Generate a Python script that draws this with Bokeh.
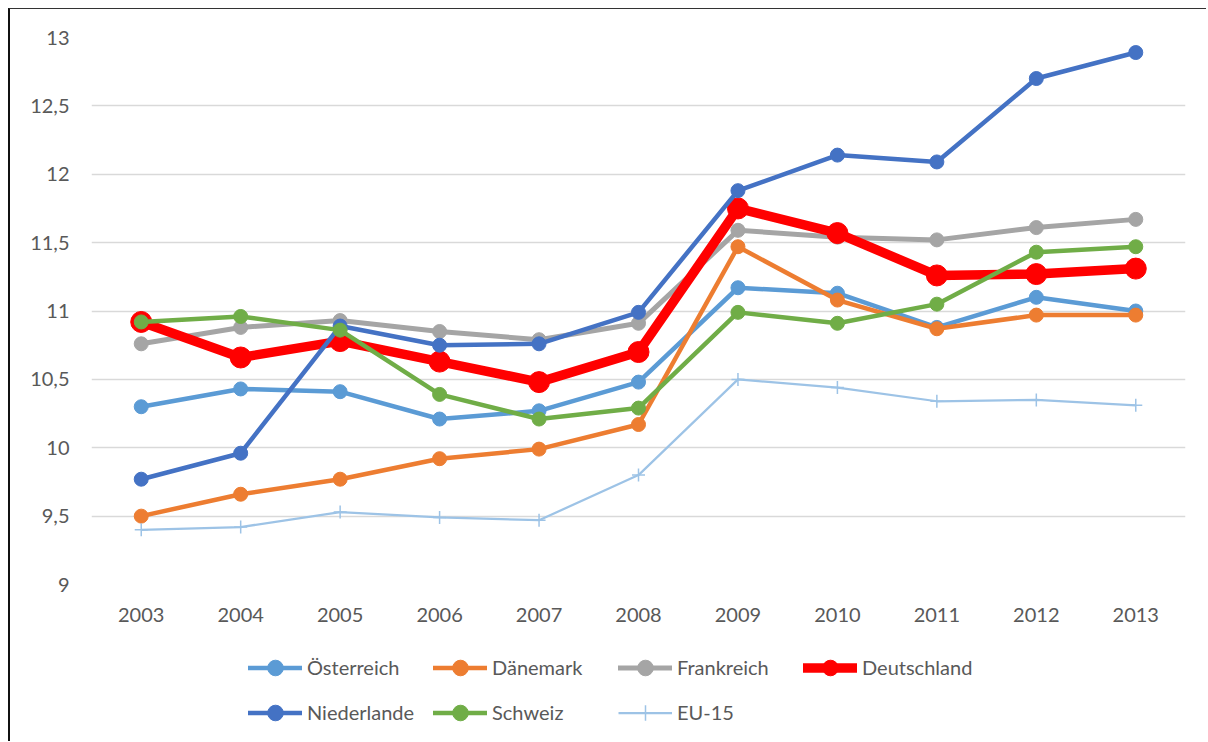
from bokeh.plotting import figure
from bokeh.layouts import column
from bokeh.models import Range1d, FixedTicker, Legend, LegendItem
from bokeh.embed import file_html
from bokeh.resources import INLINE

years = list(range(2003, 2014))
oesterreich = [10.30, 10.43, 10.41, 10.21, 10.27, 10.48, 11.17, 11.13, 10.88, 11.10, 11.00]
daenemark = [9.50, 9.66, 9.77, 9.92, 9.99, 10.17, 11.47, 11.08, 10.87, 10.97, 10.97]
frankreich = [10.76, 10.88, 10.93, 10.85, 10.79, 10.91, 11.59, 11.54, 11.52, 11.61, 11.67]
deutschland = [10.92, 10.66, 10.78, 10.63, 10.48, 10.70, 11.75, 11.57, 11.26, 11.27, 11.31]
niederlande = [9.77, 9.96, 10.89, 10.75, 10.76, 10.99, 11.88, 12.14, 12.09, 12.70, 12.89]
schweiz = [10.92, 10.96, 10.86, 10.39, 10.21, 10.29, 10.99, 10.91, 11.05, 11.43, 11.47]
eu15 = [9.40, 9.42, 9.53, 9.49, 9.47, 9.80, 10.50, 10.44, 10.34, 10.35, 10.31]

y_ticks = [9, 9.5, 10, 10.5, 11, 11.5, 12, 12.5, 13]
y_tick_labels = ["9", "9,5", "10", "10,5", "11", "11,5", "12", "12,5", "13"]
x_tick_labels = [str(y) for y in years]

FONT = "Lato"
TXT = "#595959"

p = figure(width=1198, height=621, output_backend="svg", toolbar_location=None,
           x_range=Range1d(2002.5, 2013.5), y_range=Range1d(9, 13),
           min_border_left=81, min_border_right=23, min_border_top=28, min_border_bottom=46)
p.styles = {"border-left": "2px solid #111111", "border-top": "1px solid #333333"}
p.outline_line_color = None
p.background_fill_color = "white"
p.border_fill_color = "white"

p.xgrid.grid_line_color = None
p.ygrid.grid_line_color = "#D9D9D9"
p.ygrid.grid_line_width = 1.5

p.yaxis.ticker = FixedTicker(ticks=y_ticks)
p.yaxis.major_label_overrides = {t: l for t, l in zip(y_ticks, y_tick_labels)}
p.xaxis.ticker = FixedTicker(ticks=years)
p.xaxis.major_label_overrides = {y: l for y, l in zip(years, x_tick_labels)}
for ax in (p.xaxis, p.yaxis):
    ax.axis_line_color = None
    ax.major_tick_line_color = None
    ax.minor_tick_line_color = None
    ax.major_tick_out = 0
    ax.major_tick_in = 0
    ax.major_label_text_font = FONT
    ax.major_label_text_font_size = "20px"
    ax.major_label_text_color = TXT
p.yaxis.major_label_standoff = 22
p.xaxis.major_label_standoff = 23

series = [
    ("Österreich", oesterreich, "#5B9BD5", 4.5, 14),
    ("Dänemark", daenemark, "#ED7D31", 4.5, 14),
    ("Frankreich", frankreich, "#A5A5A5", 5, 14),
    ("Deutschland", deutschland, "#FF0000", 9.5, 21),
    ("Niederlande", niederlande, "#4472C4", 4.5, 14),
    ("Schweiz", schweiz, "#70AD47", 4.5, 14),
]

# legend strip below the chart (its ranges keep the series out of view)
lp = figure(width=1198, height=112, output_backend="svg", toolbar_location=None,
            x_range=Range1d(0, 1), y_range=Range1d(0, 1),
            x_axis_location=None, y_axis_location=None,
            min_border_left=0, min_border_right=0, min_border_top=0, min_border_bottom=0)
lp.styles = {"border-left": "2px solid #111111"}
lp.grid.grid_line_color = None
lp.outline_line_color = None
lp.border_fill_color = "white"
lp.background_fill_color = "white"

items = []
for name, vals, col, lw, ms in series:
    p.line(years, vals, line_color=col, line_width=lw, line_join="round", line_cap="round")
    p.scatter(years, vals, marker="circle", size=ms, fill_color=col, line_color=col)
    l2 = lp.line(years, vals, line_color=col, line_width=lw, line_cap="round")
    s2 = lp.scatter(years, vals, marker="circle", size=ms, fill_color=col, line_color=col)
    items.append(LegendItem(label=name, renderers=[l2, s2]))

p.line(years, eu15, line_color="#9DC3E6", line_width=2.25, line_join="round")
p.scatter(years, eu15, marker="cross", size=13, line_color="#9DC3E6", line_width=1.5)
l2 = lp.line(years, eu15, line_color="#9DC3E6", line_width=2.25)
s2 = lp.scatter(years, eu15, marker="cross", size=13, line_color="#9DC3E6", line_width=1.5)
items.append(LegendItem(label="EU-15", renderers=[l2, s2]))

legend = Legend(items=items, orientation="horizontal", ncols=4, location=(157, 9.5),
                padding=0, margin=0, spacing=6, glyph_width=54, glyph_height=39,
                label_width=120, label_height=39, label_standoff=5,
                border_line_color=None, background_fill_alpha=0,
                label_text_font=FONT, label_text_font_size="20px",
                label_text_color=TXT)
lp.add_layout(legend)

layout = column(p, lp, spacing=0)
layout.margin = (8, 0, 0, 8)

open("out.html", "w").write(file_html(layout, INLINE))
